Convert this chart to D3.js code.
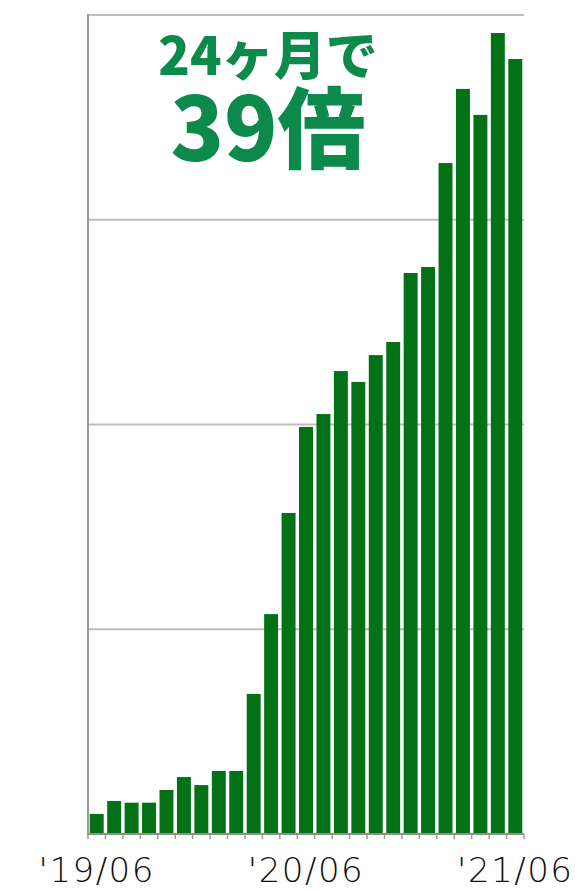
<!DOCTYPE html>
<html>
<head>
<meta charset="utf-8">
<script src="https://cdn.jsdelivr.net/npm/d3@7"></script>
<style>
  html, body { margin: 0; padding: 0; background: #fff; }
  svg { display: block; }
</style>
</head>
<body>
<svg id="chart" width="577" height="890"></svg>
<script>
const months = ["'19/06","'19/07","'19/08","'19/09","'19/10","'19/11","'19/12",
  "'20/01","'20/02","'20/03","'20/04","'20/05","'20/06","'20/07","'20/08","'20/09",
  "'20/10","'20/11","'20/12","'21/01","'21/02","'21/03","'21/04","'21/05","'21/06"];
const values = [0.98, 1.61, 1.53, 1.53, 2.15, 2.78, 2.39, 3.08, 3.08, 6.84, 10.74,
  15.68, 19.88, 20.51, 22.61, 22.08, 23.39, 24.03, 27.40, 27.69, 32.77, 36.39,
  35.12, 39.12, 37.85];
const gridValues = [10, 20, 30, 40];
const tickLabels = ["'19/06", "'20/06", "'21/06"];
const titleLine1 = "24ヶ月で";
const titleLine2 = "39倍";

const svg = d3.select("#chart");
const mLeft = 88, mRight = 524, mTop = 15, mBottom = 834;

const x = d3.scaleBand().domain(months).range([mLeft, mRight])
  .paddingInner(0.2).paddingOuter(0.1);
const y = d3.scaleLinear().domain([0, 40]).range([mBottom, mTop]);

// gridlines
svg.append("g").selectAll("line").data(gridValues).join("line")
  .attr("x1", mLeft).attr("x2", mRight)
  .attr("y1", d => y(d)).attr("y2", d => y(d))
  .attr("stroke", "#bdbdbd").attr("stroke-width", 2);

// bars
svg.append("g").selectAll("rect").data(values).join("rect")
  .attr("x", (d, i) => x(months[i]))
  .attr("width", x.bandwidth())
  .attr("y", d => y(d))
  .attr("height", d => y(0) - y(d))
  .attr("fill", "#037216");

// left axis line
svg.append("line")
  .attr("x1", mLeft).attr("x2", mLeft)
  .attr("y1", y(40) - 1).attr("y2", y(0) + 1)
  .attr("stroke", "#9a9a9a").attr("stroke-width", 2);

// bottom ticks at band boundaries
const boundaries = months.map(m => x(m) - x.step() * x.paddingInner() / 2)
  .concat([mRight]);
svg.append("g").selectAll("line").data(boundaries).join("line")
  .attr("x1", d => d).attr("x2", d => d)
  .attr("y1", y(0)).attr("y2", y(0) + 5)
  .attr("stroke", "#9a9a9a").attr("stroke-width", 1.5);

// bottom axis line
svg.append("line")
  .attr("x1", mLeft - 1).attr("x2", mRight)
  .attr("y1", y(0)).attr("y2", y(0))
  .attr("stroke", "#8f8f8f").attr("stroke-width", 2);

// tick labels
const ax = svg.append("g").attr("transform", `translate(0, ${y(0)})`)
  .call(d3.axisBottom(x).tickValues(tickLabels).tickSize(0).tickPadding(0));
ax.select(".domain").remove();
ax.selectAll("text")
  .attr("y", 48)
  .attr("dy", 0)
  .attr("font-family", "'DejaVu Sans', sans-serif")
  .attr("font-weight", 300)
  .attr("font-size", 34)
  .attr("letter-spacing", 1.5)
  .attr("fill", "#111");

// title
svg.append("text")
  .attr("x", 268).attr("y", 75)
  .attr("text-anchor", "middle")
  .attr("font-family", "'Noto Sans CJK JP', sans-serif")
  .attr("font-weight", 900)
  .attr("font-size", 52)
  .attr("fill", "#0b8a4b")
  .text(titleLine1);
svg.append("text")
  .attr("x", 268).attr("y", 161)
  .attr("text-anchor", "middle")
  .attr("font-family", "'Noto Sans CJK JP', sans-serif")
  .attr("font-weight", 900)
  .attr("font-size", 88)
  .attr("fill", "#0b8a4b")
  .text(titleLine2);
</script>
</body>
</html>
